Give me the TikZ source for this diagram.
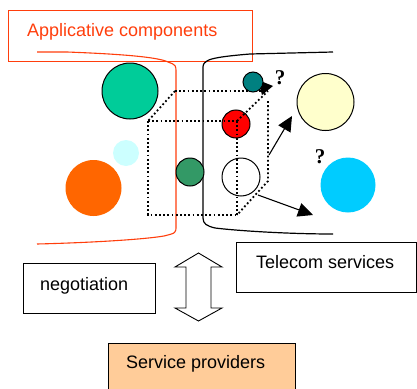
\documentclass[tikz,border=0pt]{standalone}
\usepackage{fontspec}
\setmainfont{Liberation Sans}
\newfontfamily\qfont{Liberation Serif}
\usetikzlibrary{arrows.meta}
\definecolor{titlered}{RGB}{255,62,12}
\definecolor{cgreen}{RGB}{0,204,153}
\definecolor{clcyan}{RGB}{204,255,255}
\definecolor{corange}{RGB}{255,102,0}
\definecolor{cdgreen}{RGB}{51,153,102}
\definecolor{cteal}{RGB}{0,128,128}
\definecolor{cred}{RGB}{255,0,0}
\definecolor{cyellow}{RGB}{255,255,204}
\definecolor{ccyan}{RGB}{0,204,255}
\definecolor{cpeach}{RGB}{255,204,153}
\tikzset{
  ball/.style={circle, inner sep=0pt, minimum size=#1, line width=1pt},
  plain/.style={ball=#1},
  outlined/.style={ball=#1, draw=black},
  dotedge/.style={line width=1.8pt, dash pattern=on 1.8pt off 2.4pt, line cap=butt},
  bigarrow/.style={line width=1.1pt, -{Triangle[length=15pt,width=14pt]}},
  labelbox/.style={draw=black, line width=0.9pt, fill=white},
  txt/.style={font=\fontsize{18}{20}\selectfont, inner sep=0pt},
  qmark/.style={font=\qfont\bfseries\fontsize{21}{22}\selectfont, inner sep=0pt}
}
\begin{document}
\begin{tikzpicture}[x=1pt, y=-1pt]
\useasboundingbox (0,0) rectangle (417,388);
% title box
\draw[titlered, line width=1pt] (8,10) rectangle (252,61);
\node[txt, text=titlered, anchor=base west] (title) at (27,36) {Applicative components};
% red bracket
\draw[titlered, line width=1.1pt] (37,52) -- (67,52) .. controls (120,54) and (158,57) .. (168,62) .. controls (176,65) .. (176,73) -- (176,226) .. controls (176,233) .. (164,236) .. controls (140,240) and (80,243) .. (37,244);
% black bracket
\draw[black, line width=1.2pt] (333,52) -- (250,54) .. controls (226,56) and (211,58) .. (207,61) .. controls (203,64) .. (203,70) -- (203,218) .. controls (203,224) and (207,226) .. (215,228) .. controls (240,231) and (290,234) .. (333,234);
% cube corners
\coordinate (btl) at (175,91);
\coordinate (btr) at (268,91);
\coordinate (ftl) at (148,121);
\coordinate (ftr) at (237,121);
\coordinate (fbl) at (148,215);
\coordinate (fbr) at (237,215);
\coordinate (bbr) at (268,181);
\coordinate (bup) at (268,101);
% circles under the cube
\node[outlined=38pt, fill=none] (white) at (241,177) {};
\node[outlined=28pt, fill=cred] (redc) at (236,124) {};
% cube dotted edges
\draw[dotedge] (btl) -- (btr);
\draw[dotedge] (btl) -- (ftl);
\draw[dotedge] (ftl) -- (ftr);
\draw[dotedge] (ftr) -- (btr);
\draw[dotedge] (ftl) -- (fbl) -- (fbr);
\draw[dotedge] (ftr) -- (fbr);
\draw[dotedge] (bup) -- (bbr) -- (fbr);
% arrow head toward teal
\fill[black] (273,86) -- (262,95) -- (258,80) -- cycle;
% other circles
\node[outlined=56pt, fill=cgreen] (green) at (130,91) {};
\node[plain=26pt, fill=clcyan] (lcyan) at (126,153) {};
\node[plain=56pt, fill=corange] (orange) at (93.5,188) {};
\node[outlined=28pt, fill=cdgreen] (dgreen) at (190,172) {};
\node[outlined=20pt, fill=cteal] (teal) at (253,82) {};
\node[outlined=57pt, fill=cyellow] (yellow) at (325.5,102) {};
\node[plain=55pt, fill=ccyan] (cyan) at (348,185) {};
% question marks
\node[qmark] (q1) at (280,78) {?};
\node[qmark] (q2) at (320,157) {?};
% arrows
\coordinate (a1s) at (269,155);
\coordinate (a1e) at (292,116);
\coordinate (a2s) at (258,195);
\coordinate (a2e) at (313,215);
\draw[bigarrow] (a1s) -- (a1e);
\draw[bigarrow] (a2s) -- (a2e);
% bottom boxes
\draw[labelbox] (23,263) rectangle (155,313);
\node[txt, anchor=base west] (nego) at (40,290) {negotiation};
\draw[labelbox] (236,242) rectangle (416.5,292);
\node[txt, anchor=base west] (tele) at (256,268) {Telecom services};
\draw[labelbox, fill=cpeach] (108,343) rectangle (295,392);
\node[txt, anchor=base west] (serv) at (126,368) {Service providers};
% double arrow
\draw[black, line width=0.9pt, fill=white] (198.5,253) -- (222,267) -- (211,267) -- (211,308) -- (222,308) -- (198.5,321) -- (175,308) -- (186,308) -- (186,267) -- (175,267) -- cycle;
\end{tikzpicture}
\end{document}
